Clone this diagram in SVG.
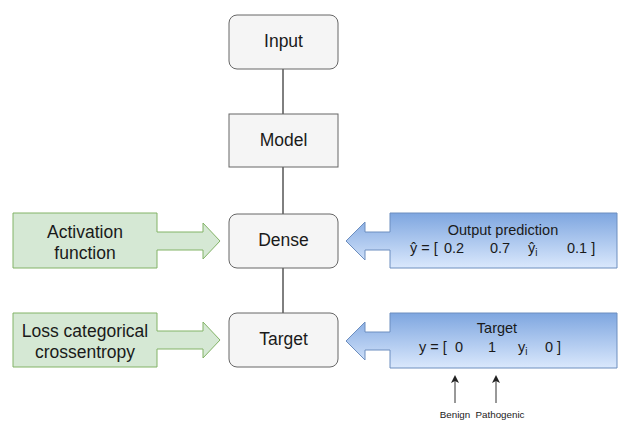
<svg xmlns="http://www.w3.org/2000/svg" width="619" height="421" viewBox="0 0 619 421">
<defs>
<linearGradient id="blueGrad" x1="0" y1="0" x2="0" y2="1">
<stop offset="0" stop-color="#7ea6e0"/>
<stop offset="1" stop-color="#dae8fc"/>
</linearGradient>
<marker id="arrowUp" viewBox="0 0 10 10" refX="5" refY="5" markerWidth="8" markerHeight="8" orient="auto-start-reverse" markerUnits="userSpaceOnUse">
<path d="M0,0 L10,5 L0,10 L2.5,5 Z" fill="#222"/>
</marker>
</defs>
<style>
text{font-family:"Liberation Sans",Arial,sans-serif;fill:#1a1a1a;}
.node{fill:#f5f5f5;stroke:#666666;stroke-width:1;}
.lbl{font-size:17.5px;text-anchor:middle;}
.green{fill:#d5e8d4;stroke:#82b366;stroke-width:1;}
.blue{fill:url(#blueGrad);stroke:#6c8ebf;stroke-width:1;}
.small{font-size:14.5px;}
.tiny{font-size:9.8px;text-anchor:middle;}
.conn{stroke:#000;stroke-width:1;fill:none;}
.ptr{stroke:#333;stroke-width:1;fill:none;}
</style>
<rect width="619" height="421" fill="#ffffff"/>
<g id="connectors">
<line class="conn" x1="283" y1="69" x2="283" y2="114"/>
<line class="conn" x1="283" y1="167" x2="283" y2="214"/>
<line class="conn" x1="283" y1="268" x2="283" y2="313"/>
<line class="ptr" x1="455" y1="403" x2="455" y2="379" marker-end="url(#arrowUp)"/>
<line class="ptr" x1="496" y1="403" x2="496" y2="379" marker-end="url(#arrowUp)"/>
</g>
<g id="input">
<rect class="node" x="229" y="15" width="109" height="54" rx="8"/>
<text class="lbl" x="283.5" y="47">Input</text>
</g>
<g id="model">
<rect class="node" x="229" y="114" width="109" height="53"/>
<text class="lbl" x="283.5" y="146">Model</text>
</g>
<g id="dense">
<rect class="node" x="229" y="214" width="109" height="54" rx="8"/>
<text class="lbl" x="283.5" y="246">Dense</text>
</g>
<g id="target">
<rect class="node" x="229" y="313" width="109" height="54" rx="8"/>
<text class="lbl" x="283.5" y="345">Target</text>
</g>
<g id="activation">
<path class="green" d="M13,213 H157 V232 H203 V223 L220,241 L203,259 V250 H157 V268 H13 Z"/>
<text class="lbl" x="85" y="238">Activation</text>
<text class="lbl" x="85" y="259">function</text>
</g>
<g id="loss">
<path class="green" d="M13,313 H157 V331 H203 V322 L220,340 L203,358 V349 H157 V367 H13 Z"/>
<text class="lbl" x="85" y="337">Loss categorical</text>
<text class="lbl" x="85" y="358">crossentropy</text>
</g>
<g id="output-prediction">
<path class="blue" d="M617,213 H390 V232 H365 V222 L346,241 L365,260 V250 H390 V268 H617 Z"/>
<text class="small" x="503" y="235" text-anchor="middle">Output prediction</text>
<text class="small" y="253"><tspan x="410">ŷ = [</tspan><tspan x="444">0.2</tspan><tspan x="490">0.7</tspan><tspan x="528">ŷ</tspan><tspan font-size="10" dy="3">i</tspan><tspan x="567" dy="-3">0.1 ]</tspan></text>
</g>
<g id="target-vector">
<path class="blue" d="M617,313 H390 V332 H365 V322 L346,341 L365,360 V350 H390 V368 H617 Z"/>
<text class="small" x="497" y="333" text-anchor="middle">Target</text>
<text class="small" y="352"><tspan x="419">y = [</tspan><tspan x="455">0</tspan><tspan x="488">1</tspan><tspan x="518">y</tspan><tspan font-size="10" dy="3">i</tspan><tspan x="545" dy="-3">0 ]</tspan></text>
</g>
<g id="labels">
<text class="tiny" x="455" y="418">Benign</text>
<text class="tiny" x="500" y="418">Pathogenic</text>
</g>
</svg>
